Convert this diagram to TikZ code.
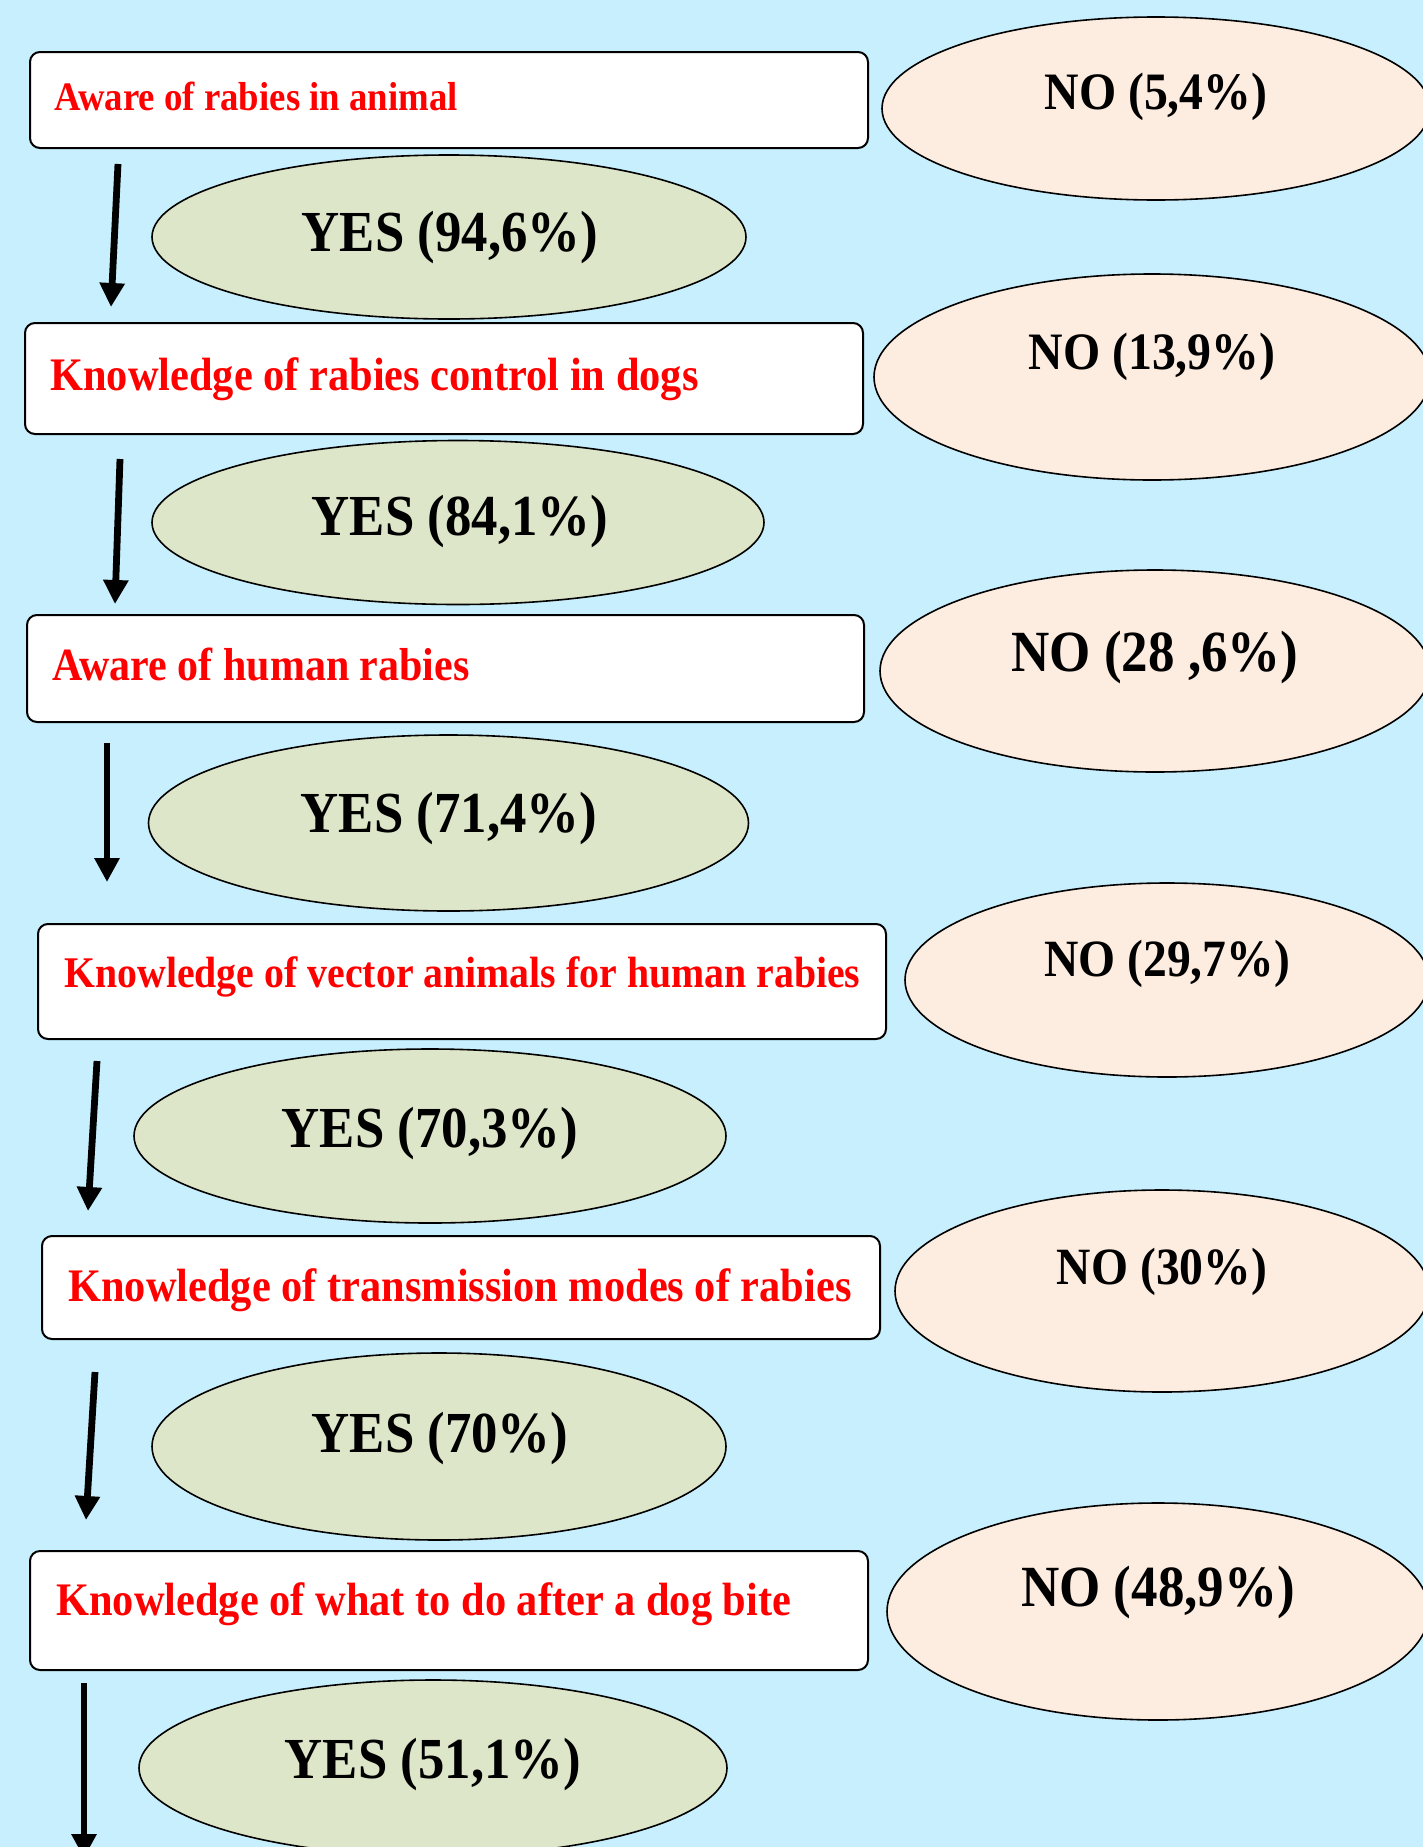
\documentclass[tikz,border=0pt]{standalone}
\usepackage{fontspec}
\setmainfont{Liberation Serif}
\usetikzlibrary{arrows.meta,shapes.geometric}
\definecolor{bgc}{RGB}{200,239,254}
\definecolor{yesc}{RGB}{221,230,200}
\definecolor{noc}{RGB}{253,236,224}
\definecolor{redt}{RGB}{255,0,0}
\newcommand{\vst}[1]{\scalebox{1}[1.1]{#1}}
\begin{document}
\begin{tikzpicture}[x=0.5pt,y=-0.5pt,
  qbox/.style={draw=black, line width=1pt, fill=white, rounded corners=5pt, inner sep=0pt, outer sep=0pt},
  yesell/.style={ellipse, draw=black, line width=0.8pt, fill=yesc, inner sep=0pt},
  noell/.style={ellipse, draw=black, line width=0.8pt, fill=noc, inner sep=0pt},
  qtext/.style={anchor=base west, inner sep=0pt, text=redt},
  anstext/.style={anchor=base, inner sep=0pt, text=black},
  flow/.style={line width=3.4pt, -{Triangle[length=12pt,width=12pt]}}]
\useasboundingbox (0,0) rectangle (1423,1847);
\fill[bgc] (0,0) rectangle (1423,1847);
\clip (0,0) rectangle (1423,1847);

% question boxes
\node[qbox, minimum width=419pt, minimum height=48pt] (b1) at (449,100) {};
\node[qbox, minimum width=419pt, minimum height=55.5pt] (b2) at (444,378.5) {};
\node[qbox, minimum width=418.5pt, minimum height=53.5pt] (b3) at (445.5,668.5) {};
\node[qbox, minimum width=424pt, minimum height=57.5pt] (b4) at (462,981.5) {};
\node[qbox, minimum width=419pt, minimum height=51.5pt] (b5) at (461,1287.5) {};
\node[qbox, minimum width=419pt, minimum height=59.5pt] (b6) at (449,1610.5) {};

\node[qtext, font=\bfseries\fontsize{18.4pt}{22pt}\selectfont] (q1) at (54,110) {\vst{Aware of rabies in animal}};
\node[qtext, font=\bfseries\fontsize{21.2pt}{25pt}\selectfont] (q2) at (50,390) {\vst{Knowledge of rabies control in dogs}};
\node[qtext, font=\bfseries\fontsize{21pt}{25pt}\selectfont] (q3) at (52,680) {\vst{Aware of human rabies}};
\node[qtext, font=\bfseries\fontsize{19.9pt}{24pt}\selectfont] (q4) at (64,987) {\vst{Knowledge of vector animals for human rabies}};
\node[qtext, font=\bfseries\fontsize{21.2pt}{25pt}\selectfont] (q5) at (68,1301) {\vst{Knowledge of transmission modes of rabies}};
\node[qtext, font=\bfseries\fontsize{21.2pt}{25pt}\selectfont] (q6) at (56,1615) {\vst{Knowledge of what to do after a dog bite}};

% NO ellipses
\node[noell, minimum width=274pt, minimum height=91.5pt] (no1) at (1156,108.5) {};
\node[noell, minimum width=278pt, minimum height=103pt] (no2) at (1152,377) {};
\node[noell, minimum width=275pt, minimum height=101pt] (no3) at (1155,671) {};
\node[noell, minimum width=262pt, minimum height=97pt] (no4) at (1167,980) {};
\node[noell, minimum width=267pt, minimum height=101pt] (no5) at (1162,1291) {};
\node[noell, minimum width=271pt, minimum height=108.5pt] (no6) at (1158,1611.5) {};

\node[anstext, font=\bfseries\fontsize{23.9pt}{28pt}\selectfont] (n1) at (1156,109) {\vst{NO (5,4\%)}};
\node[anstext, font=\bfseries\fontsize{23.9pt}{28pt}\selectfont] (n2) at (1152,369) {\vst{NO (13,9\%)}};
\node[anstext, font=\bfseries\fontsize{26.5pt}{31pt}\selectfont] (n3) at (1155,671) {\vst{NO (28 ,6\%)}};
\node[anstext, font=\bfseries\fontsize{23.8pt}{28pt}\selectfont] (n4) at (1167,976) {\vst{NO (29,7\%)}};
\node[anstext, font=\bfseries\fontsize{23.8pt}{28pt}\selectfont] (n5) at (1162,1284) {\vst{NO (30\%)}};
\node[anstext, font=\bfseries\fontsize{26.5pt}{31pt}\selectfont] (n6) at (1158,1606) {\vst{NO (48,9\%)}};

% YES ellipses
\node[yesell, minimum width=297pt, minimum height=82pt] (yes1) at (449,237) {};
\node[yesell, minimum width=306pt, minimum height=82pt] (yes2) at (458,522.5) {};
\node[yesell, minimum width=300pt, minimum height=88pt] (yes3) at (448.5,823) {};
\node[yesell, minimum width=296pt, minimum height=87pt] (yes4) at (430,1136) {};
\node[yesell, minimum width=287pt, minimum height=93.5pt] (yes5) at (439,1446.5) {};
\node[yesell, minimum width=294pt, minimum height=88pt] (yes6) at (433,1768) {};

\node[anstext, font=\bfseries\fontsize{26.4pt}{31pt}\selectfont] (y1) at (450,251) {\vst{YES (94,6\%)}};
\node[anstext, font=\bfseries\fontsize{26.4pt}{31pt}\selectfont] (y2) at (460,535) {\vst{YES (84,1\%)}};
\node[anstext, font=\bfseries\fontsize{26.4pt}{31pt}\selectfont] (y3) at (449,832) {\vst{YES (71,4\%)}};
\node[anstext, font=\bfseries\fontsize{26.4pt}{31pt}\selectfont] (y4) at (430,1147) {\vst{YES (70,3\%)}};
\node[anstext, font=\bfseries\fontsize{26.4pt}{31pt}\selectfont] (y5) at (440,1452) {\vst{YES (70\%)}};
\node[anstext, font=\bfseries\fontsize{26.4pt}{31pt}\selectfont] (y6) at (433,1778) {\vst{YES (51,1\%)}};

% arrows
\coordinate (a1s) at (118,164);  \coordinate (a1e) at (111,307);
\coordinate (a2s) at (120,459);  \coordinate (a2e) at (115,604);
\coordinate (a3s) at (107,743);  \coordinate (a3e) at (107,882);
\coordinate (a4s) at (97,1061);  \coordinate (a4e) at (88,1211);
\coordinate (a5s) at (95,1372);  \coordinate (a5e) at (86,1520);
\coordinate (a6s) at (84,1683);  \coordinate (a6e) at (84,1858);
\draw[flow] (a1s) -- (a1e);
\draw[flow] (a2s) -- (a2e);
\draw[flow] (a3s) -- (a3e);
\draw[flow] (a4s) -- (a4e);
\draw[flow] (a5s) -- (a5e);
\draw[flow] (a6s) -- (a6e);
\end{tikzpicture}
\end{document}
